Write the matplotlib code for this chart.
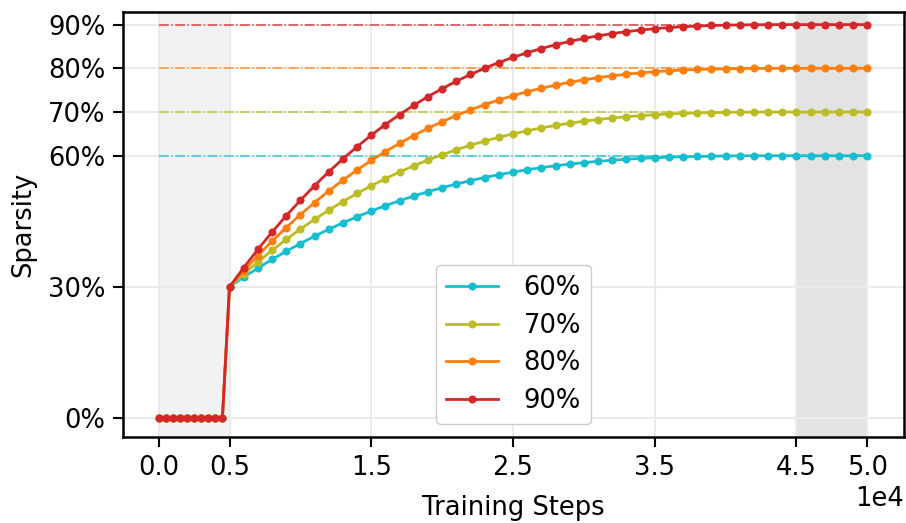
import matplotlib
matplotlib.use("Agg")
import matplotlib.pyplot as plt
from matplotlib.ticker import FuncFormatter

# training steps: warm-up every 500 steps, then every 1000 steps
steps_warmup = [0, 500, 1000, 1500, 2000, 2500, 3000, 3500, 4000, 4500]
steps_prune = list(range(5000, 50001, 1000))
steps = steps_warmup + steps_prune

warmup_vals = [0.0] * len(steps_warmup)

sparsity_60 = warmup_vals + [
    30.00, 32.19, 34.28, 36.26, 38.13, 39.90, 41.58, 43.15, 44.64, 46.04,
    47.34, 48.57, 49.71, 50.77, 51.76, 52.68, 53.52, 54.30, 55.01, 55.66,
    56.25, 56.78, 57.27, 57.70, 58.08, 58.42, 58.71, 58.97, 59.19, 59.38,
    59.53, 59.66, 59.76, 59.84, 59.90, 59.94, 59.97, 59.99, 60.00, 60.00,
    60.00, 60.00, 60.00, 60.00, 60.00, 60.00]
sparsity_70 = warmup_vals + [
    30.00, 32.93, 35.70, 38.34, 40.84, 43.20, 45.43, 47.54, 49.52, 51.38,
    53.12, 54.76, 56.28, 57.70, 59.01, 60.23, 61.36, 62.40, 63.34, 64.21,
    65.00, 65.71, 66.35, 66.93, 67.44, 67.89, 68.28, 68.63, 68.92, 69.17,
    69.37, 69.54, 69.68, 69.79, 69.86, 69.92, 69.96, 69.98, 70.00, 70.00,
    70.00, 70.00, 70.00, 70.00, 70.00, 70.00]
sparsity_80 = warmup_vals + [
    30.00, 33.66, 37.13, 40.43, 43.55, 46.50, 49.29, 51.92, 54.40, 56.73,
    58.91, 60.95, 62.85, 64.62, 66.27, 67.79, 69.20, 70.49, 71.68, 72.76,
    73.75, 74.64, 75.44, 76.16, 76.80, 77.36, 77.86, 78.28, 78.65, 78.96,
    79.22, 79.43, 79.60, 79.73, 79.83, 79.90, 79.95, 79.98, 79.99, 80.00,
    80.00, 80.00, 80.00, 80.00, 80.00, 80.00]
sparsity_90 = warmup_vals + [
    30.00, 34.39, 38.56, 42.51, 46.26, 49.80, 53.15, 56.31, 59.28, 62.07,
    64.69, 67.14, 69.42, 71.55, 73.52, 75.35, 77.04, 78.59, 80.02, 81.32,
    82.50, 83.57, 84.53, 85.39, 86.16, 86.84, 87.43, 87.94, 88.38, 88.75,
    89.06, 89.32, 89.52, 89.68, 89.80, 89.88, 89.94, 89.97, 89.99, 90.00,
    90.00, 90.00, 90.00, 90.00, 90.00, 90.00]

targets = [60, 70, 80, 90]
series = [sparsity_60, sparsity_70, sparsity_80, sparsity_90]
labels = ["60%", "70%", "80%", "90%"]
colors = ["#17becf", "#bcbd22", "#ff7f0e", "#d62728"]

x_ticks = [0, 5000, 15000, 25000, 35000, 45000, 50000]
y_ticks = [0, 30, 60, 70, 80, 90]

plt.rcParams["font.family"] = "DejaVu Sans"
plt.rcParams["font.size"] = 18.5

fig, ax = plt.subplots(figsize=(9.06, 5.23), dpi=100)
fig.subplots_adjust(left=0.136, right=0.998, top=0.978, bottom=0.165)

# warm-up and fine-tuning phases
ax.axvspan(0, 5000, color="#f2f2f2", lw=0, zorder=0)
ax.axvspan(45000, 50000, color="#e3e3e3", lw=0, zorder=0)

for t, c in zip(targets, colors):
    ax.plot([0, 50000], [t, t], ls="-.", lw=1.1, color=c, alpha=0.85, zorder=1)

for vals, lab, c in zip(series, labels, colors):
    ax.plot(steps, vals, "-o", color=c, lw=2, ms=4.8, label=lab, zorder=3)

ax.set_xlim(-2500, 52600)
ax.set_ylim(-4.3, 93)
ax.set_xticks(x_ticks)
ax.xaxis.set_major_formatter(FuncFormatter(lambda v, p: f"{v / 1e4:.1f}"))
ax.text(1.0, -0.115, "1e4", transform=ax.transAxes, ha="right", va="top")
ax.set_yticks(y_ticks)
ax.yaxis.set_major_formatter(FuncFormatter(lambda v, p: f"{v:.0f}%"))

ax.grid(True, color="#ebebeb", lw=1.5, zorder=0)
ax.set_axisbelow(True)
for s in ax.spines.values():
    s.set_linewidth(1.8)
ax.tick_params(width=1.5, length=7, pad=6)

ax.set_xlabel("Training Steps", labelpad=10)
ax.set_ylabel("Sparsity", labelpad=8)

ax.legend(loc="lower center", handlelength=2.0, markerscale=1.0,
          borderpad=0.4, labelspacing=0.45, handletextpad=1.0,
          borderaxespad=0, framealpha=1, edgecolor="#cccccc",
          bbox_to_anchor=(0.5, 0.03))

fig.savefig("out.png", dpi=100)
